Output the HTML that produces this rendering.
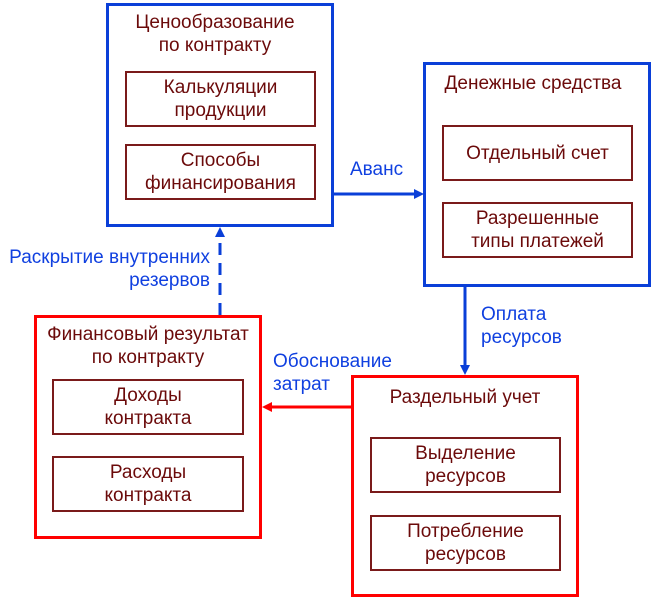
<!DOCTYPE html>
<html><head><meta charset="utf-8"><style>
body{margin:0;width:653px;height:600px;background:#fff;position:relative;overflow:hidden;font-family:"Liberation Sans","DejaVu Sans",sans-serif;}
.b{position:absolute;box-sizing:border-box;border:3px solid #0a3fd8;}
.r{border-color:#f00;}
.i{position:absolute;box-sizing:border-box;border:2px solid #7a1a1a;color:#6b0a0a;font-size:19px;line-height:23px;text-align:center;display:flex;align-items:center;justify-content:center;}
.t{position:absolute;color:#6b0a0a;font-size:19px;line-height:23px;text-align:center;}
.l{position:absolute;color:#1040e0;font-size:19px;line-height:23px;}
svg{position:absolute;left:0;top:0;}
</style></head><body>
<div class="b" style="left:106px;top:3px;width:228px;height:224px"></div>
<div class="t" style="left:106px;top:11px;width:218px">Ценообразование<br>по контракту</div>
<div class="i" style="left:125px;top:71px;width:191px;height:56px">Калькуляции<br>продукции</div>
<div class="i" style="left:125px;top:144px;width:191px;height:56px">Способы<br>финансирования</div>

<div class="b" style="left:423px;top:62px;width:228px;height:225px"></div>
<div class="t" style="left:423px;top:72px;width:220px">Денежные средства</div>
<div class="i" style="left:442px;top:125px;width:191px;height:56px">Отдельный счет</div>
<div class="i" style="left:442px;top:202px;width:191px;height:56px">Разрешенные<br>типы платежей</div>

<div class="b r" style="left:34px;top:315px;width:228px;height:224px"></div>
<div class="t" style="left:34px;top:323px;width:228px">Финансовый результат<br>по контракту</div>
<div class="i" style="left:52px;top:379px;width:192px;height:56px">Доходы<br>контракта</div>
<div class="i" style="left:52px;top:456px;width:192px;height:56px">Расходы<br>контракта</div>

<div class="b r" style="left:351px;top:375px;width:228px;height:222px"></div>
<div class="t" style="left:351px;top:386px;width:228px">Раздельный учет</div>
<div class="i" style="left:370px;top:437px;width:191px;height:56px">Выделение<br>ресурсов</div>
<div class="i" style="left:370px;top:515px;width:191px;height:56px">Потребление<br>ресурсов</div>

<div class="l" style="left:350px;top:158px">Аванс</div>
<div class="l" style="left:0px;top:246px;width:210px;text-align:right">Раскрытие внутренних<br>резервов</div>
<div class="l" style="left:481px;top:303px">Оплата<br>ресурсов</div>
<div class="l" style="left:273px;top:350px">Обоснование<br>затрат</div>

<svg width="653" height="600">
<line x1="334" y1="194" x2="416" y2="194" stroke="#0a3fd8" stroke-width="3"/>
<polygon points="424,194 414,189 414,199" fill="#0a3fd8"/>
<line x1="220" y1="315" x2="220" y2="236" stroke="#0a3fd8" stroke-width="3" stroke-dasharray="12,8"/>
<polygon points="220,227 215,237 225,237" fill="#0a3fd8"/>
<line x1="465" y1="287" x2="465" y2="367" stroke="#0a3fd8" stroke-width="3"/>
<polygon points="465,375 460,365 470,365" fill="#0a3fd8"/>
<line x1="351" y1="407" x2="270" y2="407" stroke="#f00" stroke-width="3"/>
<polygon points="262,407 272,402 272,412" fill="#f00"/>
</svg>
</body></html>
